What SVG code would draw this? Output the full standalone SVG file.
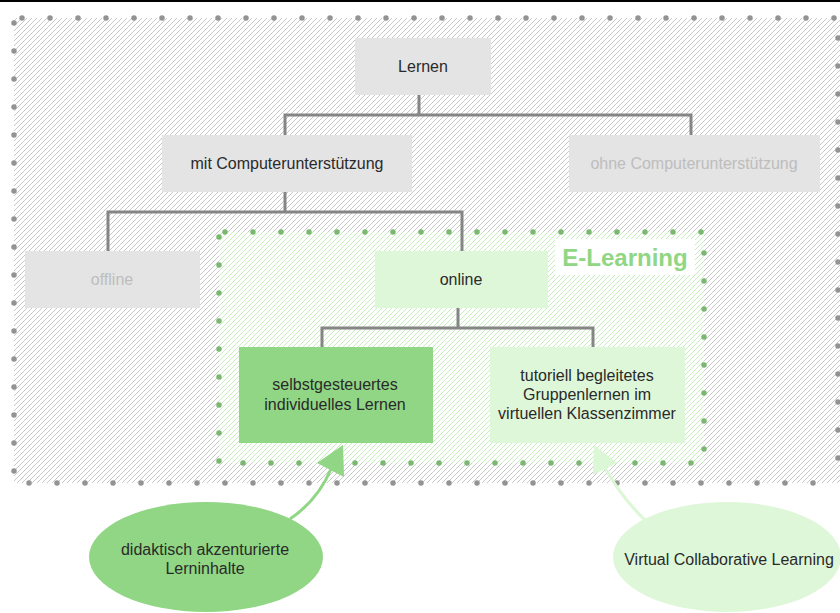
<svg xmlns="http://www.w3.org/2000/svg" width="840" height="613" viewBox="0 0 840 613">
  <defs>
    <pattern id="hatch-gray" patternUnits="userSpaceOnUse" width="5" height="5">
      <path d="M-1,1 L1,-1 M0,5 L5,0 M4,6 L6,4" stroke="#c8c8c8" stroke-width="1"/>
    </pattern>
    <pattern id="hatch-green" patternUnits="userSpaceOnUse" width="5" height="5">
      <path d="M-1,1 L1,-1 M0,5 L5,0 M4,6 L6,4" stroke="#c6eebd" stroke-width="1"/>
    </pattern>
  </defs>
  <style>
    text { font-family: "Liberation Sans", Arial, sans-serif; font-size: 16px; fill: #2a2a2a; text-anchor: middle; }
    .muted { fill: #bdbdbd; }
    .box-gray { fill: #e4e4e4; }
    .box-pale { fill: #dff7d9; }
    .box-green { fill: #90d684; }
    .dots-gray { fill: none; stroke: #939393; stroke-width: 5.5; stroke-linecap: round; stroke-dasharray: 0 28; }
    .dots-green { fill: none; stroke: #7ab86f; stroke-width: 5.5; stroke-linecap: round; stroke-dasharray: 0 28; }
    .link { fill: none; stroke: #858585; stroke-width: 3; }
  </style>

  <rect x="0" y="0" width="840" height="613" fill="#fff"/>
  <rect x="0" y="0" width="840" height="2" fill="#000"/>

  <!-- outer region: learning in general -->
  <g id="region-lernen">
    <rect x="14" y="18" width="826" height="465" fill="url(#hatch-gray)"/>
    <path class="dots-gray" d="M22,18 H840"/>
    <path class="dots-gray" d="M838,38 V483"/>
    <path class="dots-gray" d="M29,483 H840"/>
    <path class="dots-gray" d="M14,23 V483"/>
  </g>

  <!-- inner region: e-learning -->
  <g id="region-elearning">
    <rect x="219" y="232" width="485" height="231" fill="#fff"/>
    <rect x="219" y="232" width="485" height="231" fill="url(#hatch-green)"/>
    <path class="dots-green" d="M225,232 H706"/>
    <path class="dots-green" d="M704,253 V463"/>
    <path class="dots-green" d="M243,463 H704"/>
    <path class="dots-green" d="M219,237 V463"/>
    <rect x="555" y="239" width="140" height="36" fill="#fff"/>
    <text x="625" y="266" style="font-size:24px;font-weight:bold;fill:#90d684">E-Learning</text>
  </g>

  <!-- tree connectors -->
  <g id="connectors">
    <path class="link" d="M419,95 V115 M285,135 V115 H691 V135"/>
    <path class="link" d="M285,192 V212 M108,251 V212 H462 V251"/>
    <path class="link" d="M458,308 V328 M322,347 V328 H593 V347"/>
  </g>

  <g id="node-lernen">
    <rect class="box-gray" x="355" y="38" width="136" height="57"/>
    <text x="423" y="72">Lernen</text>
  </g>
  <g id="node-mit">
    <rect class="box-gray" x="162" y="135" width="250" height="57"/>
    <text x="287" y="169">mit Computerunterstützung</text>
  </g>
  <g id="node-ohne">
    <rect class="box-gray" x="569" y="135" width="251" height="57"/>
    <text class="muted" x="694" y="169">ohne Computerunterstützung</text>
  </g>
  <g id="node-offline">
    <rect class="box-gray" x="25" y="251" width="175" height="57"/>
    <text class="muted" x="112" y="285">offline</text>
  </g>
  <g id="node-online">
    <rect class="box-pale" x="375" y="251" width="173" height="57"/>
    <text x="461" y="285">online</text>
  </g>
  <g id="node-selbst">
    <rect class="box-green" x="239" y="347" width="194" height="96"/>
    <text x="335" y="390">selbstgesteuertes</text>
    <text x="335" y="410">individuelles Lernen</text>
  </g>
  <g id="node-tutoriell">
    <rect class="box-pale" x="490" y="347" width="195" height="96"/>
    <text x="587" y="381">tutoriell begleitetes</text>
    <text x="587" y="400">Gruppenlernen im</text>
    <text x="587" y="419">virtuellen Klassenzimmer</text>
  </g>

  <!-- annotation arrows -->
  <g id="arrows">
    <path d="M290,519 Q318,500 331,469" fill="none" stroke="#90d684" stroke-width="3"/>
    <polygon points="343,445 317,463 344,477" fill="#90d684"/>
    <path d="M645,520 Q622,498 605,468" fill="none" stroke="#dcf7d5" stroke-width="3"/>
    <polygon points="594,445 617,463 593,475" fill="#dcf7d5"/>
  </g>

  <g id="note-didaktisch">
    <ellipse cx="206" cy="557" rx="117" ry="55" fill="#90d684"/>
    <text x="205" y="555">didaktisch akzenturierte</text>
    <text x="205" y="574">Lerninhalte</text>
  </g>
  <g id="note-vcl">
    <ellipse cx="727" cy="557" rx="114" ry="55" fill="#dff7d9"/>
    <text x="729" y="565">Virtual Collaborative Learning</text>
  </g>
</svg>
